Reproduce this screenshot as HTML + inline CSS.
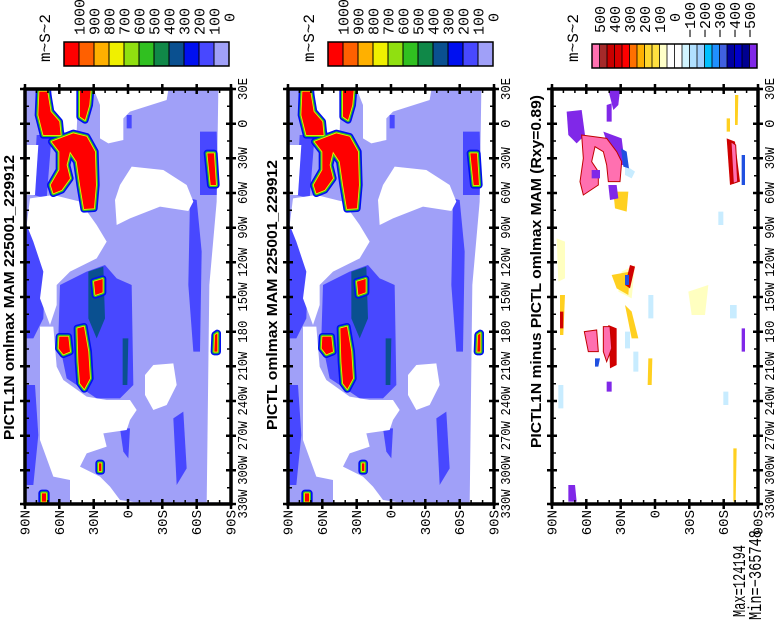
<!DOCTYPE html>
<html><head><meta charset="utf-8"><style>
html,body{margin:0;padding:0;background:#fff;}
svg{display:block;}
text{font-family:"Liberation Mono",monospace;}
.t{font-family:"Liberation Sans",sans-serif;font-weight:bold;font-size:15px;}
</style></head><body>
<svg width="782" height="621" viewBox="0 0 782 621" xmlns="http://www.w3.org/2000/svg">
<defs>
<clipPath id="c1" clipPathUnits="userSpaceOnUse"><rect x="15" y="15" width="622" height="1237"/></clipPath>
<clipPath id="c3" clipPathUnits="userSpaceOnUse"><rect x="20" y="15" width="620" height="1240"/></clipPath>
<g id="hot">
<path d="M58,20 L82,20 92,80 118,110 122,150 70,150 55,90Z"/>
<path d="M95,170 L160,145 200,155 225,200 228,300 222,370 192,372 180,300 170,230 150,200 140,240 150,280 125,315 100,325 92,300 118,255 118,200Z"/>
<path d="M180,15 L212,15 208,60 195,105 180,95Z"/>
<path d="M222,590 L248,582 248,622 226,630Z"/>
<path d="M118,755 L145,755 150,800 130,808 116,790Z"/>
<path d="M172,730 L192,725 205,800 210,880 193,912 180,895 175,830Z"/>
<path d="M562,205 L582,205 588,300 572,300Z"/>
<path d="M585,750 L592,745 592,800 583,800Z"/>
<path d="M237,1135 L244,1135 244,1158 237,1158Z"/>
<path d="M66,1225 L78,1225 78,1250 66,1250Z"/>
</g>
<g id="map1">
<g clip-path="url(#c1)">
<rect x="0" y="0" width="700" height="1300" fill="#a0a0f8"/>
<g fill="#4848ff">
<path d="M20,420 L50,440 75,560 70,700 40,760 20,760Z"/>
<path d="M20,900 L45,900 55,1050 40,1200 20,1200Z"/>
<path d="M510,340 L530,345 545,500 540,800 520,800 505,600Z"/>
<path d="M460,1000 L490,980 500,1150 470,1200Z"/>
<path d="M540,140 L590,140 595,330 540,330Z"/>
<path d="M120,600 L200,560 255,540 290,580 335,600 340,900 300,940 230,940 140,880 115,760Z"/>
<path d="M300,1030 L330,1030 325,1120 310,1100Z"/>
<path d="M320,90 L335,90 335,130 320,130Z"/>
<path d="M50,150 L95,150 80,340 40,330Z"/>
</g>
<g fill="#0a5090"><path d="M205,560 L250,545 255,700 230,760 205,700Z"/><path d="M308,760 L325,760 322,900 308,900Z"/></g>
<g fill="#fff">
<path d="M222,15 L445,15 440,45 330,80 310,100 310,165 265,175 240,160 240,60Z"/>
<path d="M595,15 L640,15 640,1260 560,1260 568,600 590,350Z"/>
<path d="M335,245 L430,255 500,300 520,350 505,378 420,365 330,400 290,420 285,345 300,300Z"/>
<path d="M20,180 L55,180 45,330 20,330Z"/>
<path d="M30,340 L100,330 180,350 230,420 260,470 230,520 150,560 110,600 110,660 90,720 60,640 70,560 40,470 20,420Z"/>
<path d="M95,15 L175,15 170,140 140,150 110,110 95,60Z"/>
<path d="M60,725 L100,725 110,845 130,885 200,935 260,945 330,945 350,975 330,1005 320,1035 250,1045 260,1085 200,1105 180,1145 240,1175 270,1205 300,1245 400,1260 150,1260 150,1185 100,1175 60,1065Z"/>
<path d="M400,840 L460,835 470,900 440,960 400,975 375,930 375,870Z"/>
</g>
<use href="#hot" fill="#0010f0" stroke="#0010f0" stroke-width="22" stroke-linejoin="round"/>
<use href="#hot" fill="#30c020" stroke="#30c020" stroke-width="12" stroke-linejoin="round"/>
<use href="#hot" fill="#f0f000" stroke="#f0f000" stroke-width="5" stroke-linejoin="round"/>
<use href="#hot" fill="#ff0000"/>
</g>
</g>
</defs>

<g transform="translate(20,85) scale(0.33333)"><use href="#map1"/></g>
<g transform="translate(283,85) scale(0.33333)"><use href="#map1"/></g>

<g transform="translate(545,85) scale(0.33333)">
<g clip-path="url(#c3)">
<g fill="#ffffc0"><path d="M35,460 L60,470 60,580 40,590Z"/><path d="M430,620 L490,600 480,690 440,690Z"/><path d="M230,560 L270,540 260,640 220,620Z"/></g>
<g fill="#c8ecff"><path d="M40,900 L55,900 55,970 40,970Z"/><path d="M310,630 L325,630 325,700 310,700Z"/><path d="M535,920 L550,920 550,960 535,960Z"/><path d="M265,800 L280,800 280,860 265,860Z"/><path d="M240,740 L255,740 255,790 240,790Z"/><path d="M240,240 L270,260 260,280 240,270Z"/><path d="M520,380 L535,380 535,420 520,420Z"/><path d="M555,660 L575,660 575,700 555,700Z"/></g>
<g fill="#ffd020"><path d="M240,660 L260,680 280,760 260,760Z"/><path d="M310,820 L322,820 320,900 308,900Z"/><path d="M545,100 L555,100 555,140 545,140Z"/><path d="M45,630 L60,630 55,750 45,750Z"/><path d="M205,320 L250,320 245,380 210,370Z"/><path d="M200,570 L255,560 250,630 215,610Z"/><path d="M565,1090 L575,1090 572,1250 565,1250Z"/><path d="M570,30 L580,30 578,120 570,120Z"/></g>
<g fill="#d00000"><path d="M545,160 L570,170 585,290 555,300Z"/><path d="M190,720 L215,730 215,840 195,850Z"/><path d="M255,540 L270,545 255,610 240,600Z"/><path d="M45,680 L55,680 55,730 45,730Z"/></g>
<g fill="#8028e8">
<path d="M65,80 L110,75 120,150 95,175 70,150Z"/>
<path d="M175,140 L230,160 240,240 215,240 195,200Z"/>
<path d="M185,60 L200,55 200,110 185,110Z"/>
<path d="M190,15 L225,15 220,60 205,75Z"/>
<path d="M190,300 L215,300 220,340 195,345Z"/>
<path d="M70,1200 L90,1200 95,1250 70,1250Z"/>
<path d="M590,730 L600,730 600,800 590,800Z"/>
<path d="M185,890 L200,890 200,920 185,920Z"/>
</g>
<g fill="#2050e0"><path d="M228,190 L245,200 252,250 235,245Z"/><path d="M590,210 L600,210 600,300 590,300Z"/><path d="M240,570 L252,570 252,600 240,600Z"/><path d="M150,820 L165,820 160,845 150,845Z"/></g>
<g fill="#ff70b0" stroke="#c00000" stroke-width="3">
<path d="M110,150 L185,160 215,200 230,230 225,290 190,290 185,240 175,200 150,185 140,230 160,260 160,300 115,330 105,290 115,220Z"/>
<path d="M118,740 L155,735 160,800 130,800Z"/>
<path d="M175,725 L195,725 200,790 185,830 175,800Z"/>
<path d="M558,170 L572,180 578,290 565,295Z"/>
<path d="M140,255 L165,255 165,280 140,280Z" fill="#8028e8" stroke="none"/>
</g>
</g>
</g>

<rect x="25" y="89" width="206" height="415" fill="none" stroke="#000" stroke-width="3.5"/>
<rect x="288" y="89" width="206" height="415" fill="none" stroke="#000" stroke-width="3.5"/>
<rect x="552" y="89" width="206" height="415" fill="none" stroke="#000" stroke-width="3.5"/>

<g stroke="#000" stroke-width="2.5" id="ticks">
<path d="M25,84V94M59.3,84V94M93.7,84V94M128,84V94M162.3,84V94M196.7,84V94M231,84V94
M25,499V509M59.3,499V509M93.7,499V509M128,499V509M162.3,499V509M196.7,499V509M231,499V509
M20,89H30M20,123.7H30M20,158.3H30M20,193H30M20,227.7H30M20,262.3H30M20,297H30M20,331.7H30M20,366.3H30M20,401H30M20,435.7H30M20,470.3H30M20,504H30
M226,89H236M226,123.7H236M226,158.3H236M226,193H236M226,227.7H236M226,262.3H236M226,297H236M226,331.7H236M226,366.3H236M226,401H236M226,435.7H236M226,470.3H236M226,504H236"/>
</g>
<g stroke="#000" stroke-width="1.5">
<path id="mt" d="M36.4,89V93M47.9,89V93M70.8,89V93M82.2,89V93M105.1,89V93M116.6,89V93M139.4,89V93M150.9,89V93M173.8,89V93M185.2,89V93M208.1,89V93M219.6,89V93
M36.4,500V504M47.9,500V504M70.8,500V504M82.2,500V504M105.1,500V504M116.6,500V504M139.4,500V504M150.9,500V504M173.8,500V504M185.2,500V504M208.1,500V504M219.6,500V504
M25,106.3H29M25,141H29M25,175.7H29M25,210.3H29M25,245H29M25,279.7H29M25,314.3H29M25,349H29M25,383.7H29M25,418.3H29M25,453H29M25,487.7H29
M227,106.3H231M227,141H231M227,175.7H231M227,210.3H231M227,245H231M227,279.7H231M227,314.3H231M227,349H231M227,383.7H231M227,418.3H231M227,453H231M227,487.7H231"/>
</g>
<use href="#ticks" transform="translate(263,0)"/>
<use href="#ticks" transform="translate(527,0)"/>
<use href="#mt" stroke="#000" stroke-width="1.5" transform="translate(263,0)"/>
<use href="#mt" stroke="#000" stroke-width="1.5" transform="translate(527,0)"/>

<g id="lab" font-size="14">
<g text-anchor="end">
<text transform="translate(29.5,510) rotate(-90)">90N</text>
<text transform="translate(63.8,510) rotate(-90)">60N</text>
<text transform="translate(98.2,510) rotate(-90)">30N</text>
<text transform="translate(132.5,510) rotate(-90)">0</text>
<text transform="translate(166.8,510) rotate(-90)">30S</text>
<text transform="translate(201.2,510) rotate(-90)">60S</text>
<text transform="translate(235.5,510) rotate(-90)">90S</text>
</g>
<g text-anchor="middle" lengthAdjust="spacingAndGlyphs">
<text transform="translate(247,89) rotate(-90)" textLength="22" lengthAdjust="spacingAndGlyphs">30E</text>
<text transform="translate(247,123.7) rotate(-90)">0</text>
<text transform="translate(247,158.3) rotate(-90)" textLength="22" lengthAdjust="spacingAndGlyphs">30W</text>
<text transform="translate(247,193) rotate(-90)" textLength="22" lengthAdjust="spacingAndGlyphs">60W</text>
<text transform="translate(247,227.7) rotate(-90)" textLength="22" lengthAdjust="spacingAndGlyphs">90W</text>
<text transform="translate(247,262.3) rotate(-90)" textLength="29" lengthAdjust="spacingAndGlyphs">120W</text>
<text transform="translate(247,297) rotate(-90)" textLength="29" lengthAdjust="spacingAndGlyphs">150W</text>
<text transform="translate(247,331.7) rotate(-90)" textLength="22" lengthAdjust="spacingAndGlyphs">180</text>
<text transform="translate(247,366.3) rotate(-90)" textLength="29" lengthAdjust="spacingAndGlyphs">210W</text>
<text transform="translate(247,401) rotate(-90)" textLength="29" lengthAdjust="spacingAndGlyphs">240W</text>
<text transform="translate(247,435.7) rotate(-90)" textLength="29" lengthAdjust="spacingAndGlyphs">270W</text>
<text transform="translate(247,470.3) rotate(-90)" textLength="29" lengthAdjust="spacingAndGlyphs">300W</text>
<text transform="translate(247,504) rotate(-90)" textLength="29" lengthAdjust="spacingAndGlyphs">330W</text>
</g>
</g>
<use href="#lab" transform="translate(263,0)"/>
<use href="#lab" transform="translate(527,0)"/>

<g id="cb1">
<g stroke="#000" stroke-width="1">
<rect x="64" y="42" width="15" height="24" fill="#ff0000"/>
<rect x="79" y="42" width="15" height="24" fill="#ff6000"/>
<rect x="94" y="42" width="15" height="24" fill="#ffb000"/>
<rect x="109" y="42" width="15" height="24" fill="#f0f000"/>
<rect x="124" y="42" width="15" height="24" fill="#90e010"/>
<rect x="139" y="42" width="15" height="24" fill="#30c020"/>
<rect x="154" y="42" width="15" height="24" fill="#108848"/>
<rect x="169" y="42" width="15" height="24" fill="#0a5090"/>
<rect x="184" y="42" width="15" height="24" fill="#0010f0"/>
<rect x="199" y="42" width="15" height="24" fill="#4848ff"/>
<rect x="214" y="42" width="15" height="24" fill="#a0a0f8"/>
</g>
<rect x="64" y="42" width="165" height="24" fill="none" stroke="#000" stroke-width="1.5"/>
<g font-size="15">
<text transform="translate(84.5,35) rotate(-90)">1000</text>
<text transform="translate(99.5,35) rotate(-90)">900</text>
<text transform="translate(114.5,35) rotate(-90)">800</text>
<text transform="translate(129.5,35) rotate(-90)">700</text>
<text transform="translate(144.5,35) rotate(-90)">600</text>
<text transform="translate(159.5,35) rotate(-90)">500</text>
<text transform="translate(174.5,35) rotate(-90)">400</text>
<text transform="translate(189.5,35) rotate(-90)">300</text>
<text transform="translate(204.5,35) rotate(-90)">200</text>
<text transform="translate(219.5,35) rotate(-90)">100</text>
<text transform="translate(234.5,22) rotate(-90)">0</text>
<text transform="translate(50,62) rotate(-90)" font-size="16">m~S~2</text>
</g>
</g>
<use href="#cb1" transform="translate(264,0)"/>

<g stroke="none">
<rect x="592" y="44" width="7.5" height="24" fill="#ff70b0"/>
<rect x="599.5" y="44" width="7.5" height="24" fill="#a52a2a"/>
<rect x="607" y="44" width="7.5" height="24" fill="#c80000"/>
<rect x="614.5" y="44" width="7.5" height="24" fill="#d80000"/>
<rect x="622" y="44" width="7.5" height="24" fill="#ff0000"/>
<rect x="629.5" y="44" width="7.5" height="24" fill="#ff7000"/>
<rect x="637" y="44" width="7.5" height="24" fill="#ffb000"/>
<rect x="644.5" y="44" width="7.5" height="24" fill="#ffd830"/>
<rect x="652" y="44" width="7.5" height="24" fill="#ffe040"/>
<rect x="659.5" y="44" width="7.5" height="24" fill="#ffffc8"/>
<rect x="667" y="44" width="15" height="24" fill="#ffffff"/>
<rect x="682" y="44" width="7.5" height="24" fill="#d0f4ff"/>
<rect x="689.5" y="44" width="7.5" height="24" fill="#b0e0ff"/>
<rect x="697" y="44" width="7.5" height="24" fill="#a0d0ff"/>
<rect x="704.5" y="44" width="7.5" height="24" fill="#00c0ff"/>
<rect x="712" y="44" width="7.5" height="24" fill="#2090ff"/>
<rect x="719.5" y="44" width="7.5" height="24" fill="#4060e0"/>
<rect x="727" y="44" width="7.5" height="24" fill="#0000a0"/>
<rect x="734.5" y="44" width="7.5" height="24" fill="#0000c8"/>
<rect x="742" y="44" width="7.5" height="24" fill="#000090"/>
<rect x="749.5" y="44" width="7.5" height="24" fill="#8028e8"/>
</g>
<g stroke="#000" stroke-width="0.8"><path d="M599.5,44V68M607,44V68M614.5,44V68M622,44V68M629.5,44V68M637,44V68M644.5,44V68M652,44V68M659.5,44V68M667,44V68M674.5,44V68M682,44V68M689.5,44V68M697,44V68M704.5,44V68M712,44V68M719.5,44V68M727,44V68M734.5,44V68M742,44V68M749.5,44V68"/></g>
<rect x="592" y="44" width="165" height="24" fill="none" stroke="#000" stroke-width="1.5"/>
<g font-size="15">
<text transform="translate(605,33) rotate(-90)">500</text>
<text transform="translate(620,33) rotate(-90)">400</text>
<text transform="translate(635,33) rotate(-90)">300</text>
<text transform="translate(650,33) rotate(-90)">200</text>
<text transform="translate(665,33) rotate(-90)">100</text>
<text transform="translate(680,22) rotate(-90)">0</text>
<text transform="translate(695,38) rotate(-90)">−100</text>
<text transform="translate(710,38) rotate(-90)">−200</text>
<text transform="translate(725,38) rotate(-90)">−300</text>
<text transform="translate(740,38) rotate(-90)">−400</text>
<text transform="translate(755,38) rotate(-90)">−500</text>
<text transform="translate(578,62) rotate(-90)" font-size="16">m~S~2</text>
</g>

<text class="t" transform="translate(14,440) rotate(-90)" textLength="285" lengthAdjust="spacingAndGlyphs">PICTL1N omlmax MAM 225001_229912</text>
<text class="t" transform="translate(277,430) rotate(-90)" textLength="270" lengthAdjust="spacingAndGlyphs">PICTL omlmax MAM 225001_229912</text>
<text class="t" transform="translate(541,448) rotate(-90)" textLength="353" lengthAdjust="spacingAndGlyphs">PICTL1N minus PICTL omlmax MAM (Rxy=0.89)</text>

<g font-size="18" style="font-family:'Liberation Serif',serif">
<text transform="translate(745,617) rotate(-90)" textLength="72" lengthAdjust="spacingAndGlyphs">Max=124194</text>
<text transform="translate(761,620) rotate(-90)" textLength="90" lengthAdjust="spacingAndGlyphs">Min=−365748</text>
</g>
</svg>
</body></html>
